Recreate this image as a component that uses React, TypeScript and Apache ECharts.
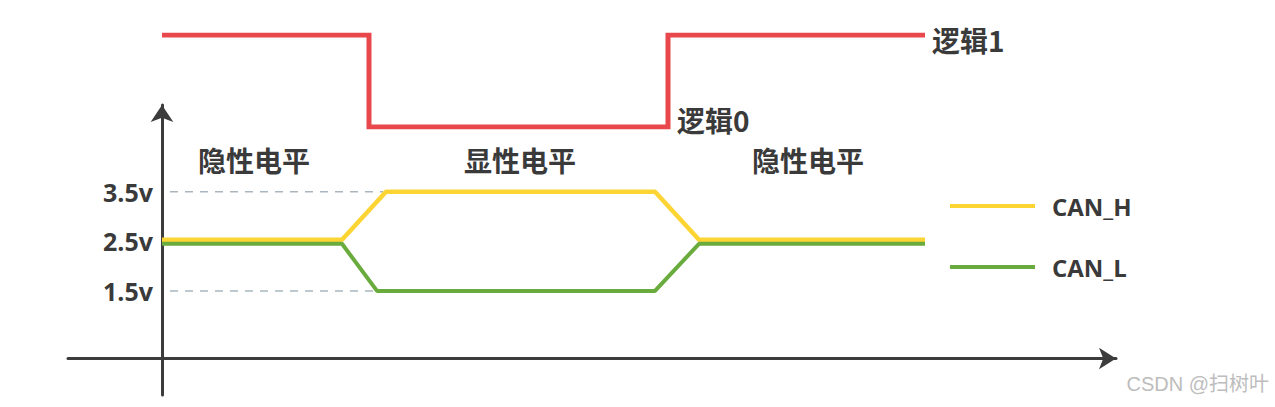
import React, { useEffect, useRef } from "react";
import * as echarts from "echarts";

// time axis (arbitrary units), voltage values
const hTime = [0, 18.0, 22.4, 49.3, 53.7, 76.3];
const hVolt = [2.53, 2.53, 3.5, 3.5, 2.53, 2.53];
const lTime = [0, 18.0, 21.5, 49.3, 53.7, 76.3];
const lVolt = [2.45, 2.45, 1.5, 1.5, 2.45, 2.45];
const logicTime = [0, 20.7, 20.7, 50.6, 50.6, 76.3];
const logicLevel = [1, 1, 0, 0, 1, 1];
const refTime = [0.8, 22.1];
const refTimeLow = [0.8, 21.5];
const yTicks = [1.5, 2.5, 3.5];
const seriesNames = ["CAN_H", "CAN_L"];
const regionLabels = ["隐性电平", "显性电平", "隐性电平"];
const logicLabels = ["逻辑1", "逻辑0"];

const zip = (a: number[], b: number[]) => a.map((v, i) => [v, b[i]]);

const TEXT = "#3a3a3a";
const CJK = "Noto Sans CJK SC";

export default function App() {
  const ref = useRef<HTMLDivElement>(null);
  useEffect(() => {
    if (!ref.current) return;
    const chart = echarts.init(ref.current, undefined, { renderer: "svg" });
    const xCommon = {
      type: "value" as const,
      min: -9.4,
      max: 95.4,
      axisLabel: { show: false },
      axisTick: { show: false },
      splitLine: { show: false },
    };
    chart.setOption({
      animation: false,
      backgroundColor: "#ffffff",
      grid: [
        { left: 68, right: 159, top: 105, bottom: 12 },
        { left: 68, right: 159, top: 35, height: 92 },
      ],
      xAxis: [
        {
          ...xCommon,
          gridIndex: 0,
          offset: -36.5,
          axisLine: {
            show: true,
            onZero: false,
            symbol: ["none", "arrow"],
            symbolSize: [16, 17],
            lineStyle: { color: "#3c3c3c", width: 3 },
          },
        },
        { ...xCommon, gridIndex: 1, axisLine: { show: false } },
      ],
      yAxis: [
        {
          type: "value",
          gridIndex: 0,
          min: -0.6,
          max: 5.25,
          interval: 0.1,
          offset: -94,
          axisLine: {
            show: true,
            onZero: false,
            symbol: ["none", "arrow"],
            symbolSize: [17, 17],
            lineStyle: { color: "#3c3c3c", width: 3 },
          },
          axisTick: { show: false },
          splitLine: { show: false },
          axisLabel: {
            margin: 9,
            color: TEXT,
            fontFamily: "Open Sans",
            fontWeight: "bold",
            fontSize: 25,
            formatter: (v: number) => {
              const t = yTicks.find((x) => Math.abs(x - v) < 1e-6);
              return t !== undefined ? `${t.toFixed(1)}v` : "";
            },
          },
        },
        {
          type: "value",
          gridIndex: 1,
          min: 0,
          max: 1,
          show: false,
        },
      ],
      legend: {
        data: seriesNames,
        orient: "vertical",
        left: 945,
        top: 186,
        icon: "rect",
        itemWidth: 85,
        itemHeight: 4,
        itemGap: 31,
        textStyle: {
          color: TEXT,
          fontFamily: "Open Sans",
          fontWeight: "bold",
          fontSize: 24,
          lineHeight: 30,
          padding: [0, 0, 0, 12],
        },
      },
      series: [
        {
          name: "ref35",
          type: "line",
          xAxisIndex: 0,
          yAxisIndex: 0,
          data: zip(refTime, [yTicks[2], yTicks[2]]),
          symbol: "none",
          silent: true,
          lineStyle: { color: "#a9b6c0", width: 1.5, type: [8, 7] },
          z: 1,
        },
        {
          name: "ref15",
          type: "line",
          xAxisIndex: 0,
          yAxisIndex: 0,
          data: zip(refTimeLow, [yTicks[0], yTicks[0]]),
          symbol: "none",
          silent: true,
          lineStyle: { color: "#a9b6c0", width: 1.5, type: [8, 7] },
          z: 1,
        },
        {
          name: seriesNames[0],
          type: "line",
          xAxisIndex: 0,
          yAxisIndex: 0,
          data: zip(hTime, hVolt),
          symbol: "none",
          color: "#fcd535",
          lineStyle: { color: "#fcd535", width: 4.5 },
          z: 3,
        },
        {
          name: seriesNames[1],
          type: "line",
          xAxisIndex: 0,
          yAxisIndex: 0,
          data: zip(lTime, lVolt),
          symbol: "none",
          color: "#6aab3e",
          lineStyle: { color: "#6aab3e", width: 4 },
          z: 4,
        },
        {
          name: "logic",
          type: "line",
          xAxisIndex: 1,
          yAxisIndex: 1,
          data: zip(logicTime, logicLevel),
          symbol: "none",
          color: "#e8474c",
          lineStyle: { color: "#e8474c", width: 5, join: "miter" },
          z: 3,
        },
      ],
      graphic: [
        ...[254, 520, 808].map((x, i) => ({
          type: "text",
          x,
          y: 160,
          style: {
            text: regionLabels[i],
            fill: TEXT,
            font: `bold 28px "${CJK}"`,
            textAlign: "center",
            textVerticalAlign: "middle",
          },
        })),
        {
          type: "text",
          x: 932,
          y: 40,
          style: {
            text: logicLabels[0],
            fill: TEXT,
            font: `bold 28px "${CJK}"`,
            textAlign: "left",
            textVerticalAlign: "middle",
          },
        },
        {
          type: "text",
          x: 677,
          y: 120,
          style: {
            text: logicLabels[1],
            fill: TEXT,
            font: `bold 28px "${CJK}"`,
            textAlign: "left",
            textVerticalAlign: "middle",
          },
        },
        {
          type: "text",
          right: 6,
          top: 374,
          style: {
            text: "CSDN @扫树叶",
            fill: "#bdbdbd",
            font: `20px "Liberation Sans", "${CJK}"`,
          },
        },
      ],
    });
    return () => chart.dispose();
  }, []);
  return (
    <div
      ref={ref}
      style={{ position: "fixed", left: 0, top: 0, width: 1275, height: 407 }}
    />
  );
}
